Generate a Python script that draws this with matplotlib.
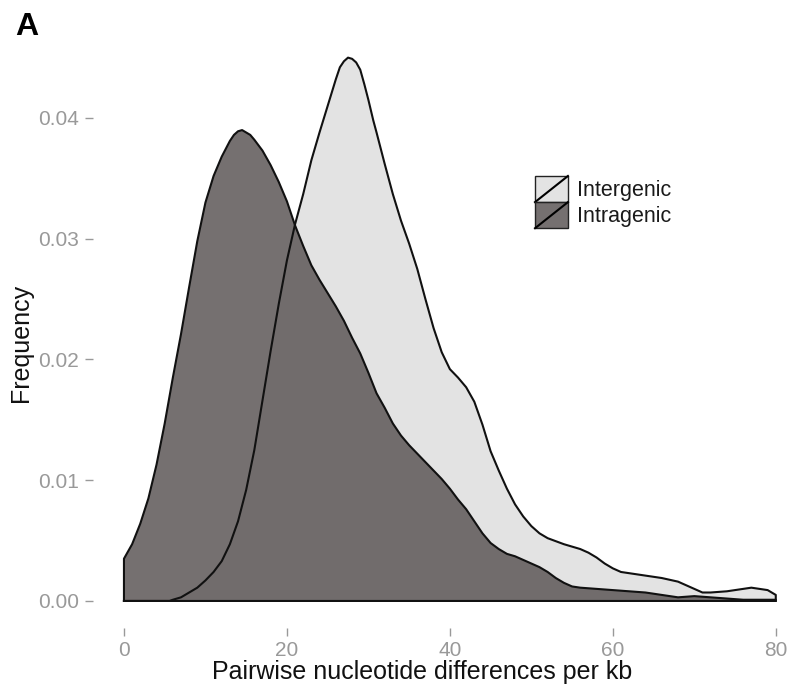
import matplotlib
matplotlib.use("Agg")
import matplotlib.pyplot as plt
from matplotlib.patches import Patch, Rectangle
from matplotlib.lines import Line2D
from matplotlib.legend_handler import HandlerPatch

plt.rcParams['font.family'] = ['Liberation Sans', 'DejaVu Sans']

# density curves (x = differences per kb)
inter_x = [0, 2, 4, 5.6, 6, 7, 8, 9, 10, 11, 12, 13, 14, 15, 16, 17, 18, 19, 20, 21, 22,
           23, 24, 25, 26, 26.5, 27, 27.5, 28, 28.5, 29, 29.5, 30, 30.6, 31, 32, 33, 34,
           35, 36, 37, 38, 39, 40, 41, 42, 43, 44, 45, 46, 47, 48, 49, 50, 51, 52, 54,
           56, 57, 58, 59, 60, 61, 62, 64, 66, 68, 69, 70, 71, 72, 74, 76, 77, 78, 79, 80]
inter_y = [0, 0, 0, 0, 0.0001, 0.0003, 0.0007, 0.0011, 0.0017, 0.0024, 0.0033, 0.0047,
           0.0066, 0.0092, 0.0125, 0.0166, 0.0207, 0.0246, 0.0282, 0.0312, 0.0337, 0.0365,
           0.0388, 0.0410, 0.0432, 0.0442, 0.0447, 0.0450, 0.0449, 0.0446, 0.0440, 0.0428,
           0.0415, 0.0398, 0.0388, 0.0362, 0.0337, 0.0315, 0.0296, 0.0275, 0.0250, 0.0226,
           0.0206, 0.0192, 0.0185, 0.0177, 0.0165, 0.0146, 0.0124, 0.0108, 0.0093, 0.0080,
           0.0070, 0.0062, 0.0056, 0.0052, 0.0047, 0.0043, 0.0040, 0.0036, 0.0031, 0.0027,
           0.0024, 0.0023, 0.0021, 0.0019, 0.0016, 0.0013, 0.0010, 0.0007, 0.0007, 0.0008,
           0.0010, 0.0011, 0.0010, 0.0009, 0.0005]

intra_x = [0, 1, 2, 3, 4, 5, 6, 7, 8, 9, 10, 11, 12, 13, 13.5, 14, 14.5, 15, 15.5, 16, 17,
           18, 19, 20, 21, 22, 23, 24, 25, 26, 27, 28, 29, 30, 31, 32, 33, 34, 35, 36, 37,
           38, 39, 40, 41, 42, 43, 44, 45, 46, 47, 48, 49, 50, 51, 52, 53, 54, 55, 56, 58,
           60, 62, 64, 66, 68, 70, 72, 74, 76, 78, 80]
intra_y = [0.0035, 0.0047, 0.0064, 0.0085, 0.0113, 0.0147, 0.0185, 0.0221, 0.0260, 0.0298,
           0.0330, 0.0352, 0.0368, 0.0381, 0.0386, 0.0389, 0.0390, 0.0388, 0.0386, 0.0382,
           0.0373, 0.0361, 0.0347, 0.0331, 0.0311, 0.0294, 0.0278, 0.0266, 0.0255, 0.0244,
           0.0232, 0.0218, 0.0205, 0.0189, 0.0172, 0.0160, 0.0147, 0.0137, 0.0129, 0.0122,
           0.0115, 0.0108, 0.0101, 0.0093, 0.0084, 0.0076, 0.0066, 0.0056, 0.0048, 0.0043,
           0.0039, 0.0037, 0.0034, 0.0031, 0.0028, 0.0024, 0.0019, 0.0015, 0.0012, 0.0011,
           0.0010, 0.0009, 0.0008, 0.0007, 0.0005, 0.0003, 0.0004, 0.0003, 0.0002, 0.0001,
           0.0001, 0.0001]

labels = ["Intergenic", "Intragenic"]
x_ticks = [0, 20, 40, 60, 80]
y_ticks = [0.00, 0.01, 0.02, 0.03, 0.04]

light = "#e3e3e3"
dark = "#5d5757"
dark_alpha = 0.85


class SlashHandler(HandlerPatch):
    def create_artists(self, legend, orig_handle, xdescent, ydescent, width, height, fontsize, trans):
        r = Rectangle((-xdescent, -ydescent), width, height, facecolor=orig_handle.get_facecolor(),
                      edgecolor="#222222", lw=1.0, transform=trans)
        l = Line2D([-xdescent, -xdescent + width], [-ydescent, -ydescent + height],
                   color="k", lw=1.5, transform=trans)
        return [r, l]


fig = plt.figure(figsize=(7.91, 6.90), dpi=100)
ax = fig.add_axes([93 / 791, 62 / 690, 695 / 791, 588 / 690])

px = [0] + inter_x + [80]
py = [0] + inter_y + [0]
qx = [0] + intra_x + [80, 0]
qy = [0] + intra_y + [0, 0]

ax.fill(px, py, facecolor=light, edgecolor="none")
ax.fill(qx, qy, facecolor=dark, alpha=dark_alpha, edgecolor="none")
ax.plot(px, py, color="#111111", lw=1.5, solid_joinstyle="round")
ax.plot(qx, qy, color="#111111", lw=1.5, solid_joinstyle="round")

ax.set_xlim(-3.8, 81.5)
ax.set_ylim(-0.00224, 0.04646)
ax.set_xticks(x_ticks)
ax.set_xticklabels([str(v) for v in x_ticks])
ax.set_yticks(y_ticks)
ax.set_yticklabels(["%.2f" % v for v in y_ticks])
for s in ax.spines.values():
    s.set_visible(False)
ax.tick_params(axis="both", colors="#999999", labelsize=15, length=6, width=1, pad=4)
ax.tick_params(axis="x", pad=3)

ax.set_xlabel("Pairwise nucleotide differences per kb", fontsize=18, color="#111111")
ax.xaxis.set_label_coords(0.474, -0.054)
ax.set_ylabel("Frequency", fontsize=18, color="#111111")
ax.yaxis.set_label_coords(-0.086, 0.485)

handles = [Patch(facecolor=light), Patch(facecolor=dark, alpha=dark_alpha)]
leg = ax.legend(handles, labels, loc="upper left", bbox_to_anchor=(535 / 791, 1 - 176 / 690),
                bbox_transform=fig.transFigure, frameon=False, fontsize=15.5, borderpad=0,
                borderaxespad=0, labelspacing=0, handlelength=1.53, handleheight=1.49,
                handletextpad=0.42, handler_map={Patch: SlashHandler()})
for t in leg.get_texts():
    t.set_color("#1a1a1a")

fig.text(15 / 791, 1 - 35 / 690, "A", fontsize=23, fontweight="bold", va="baseline")

fig.savefig("out.png", dpi=100)
